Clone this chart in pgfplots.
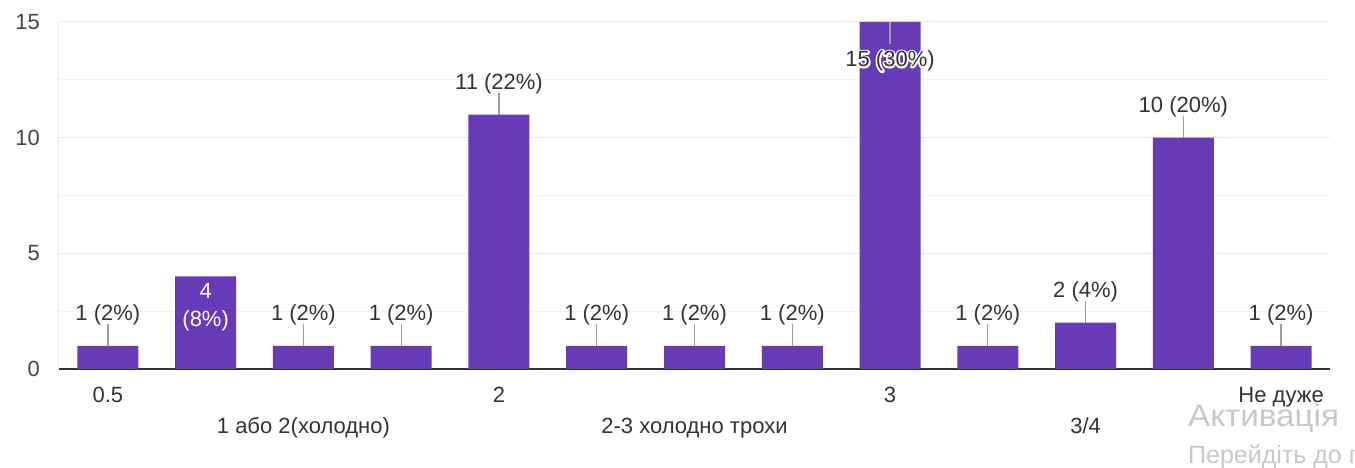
\documentclass[border=0pt]{standalone}
\usepackage{fontspec}
\setmainfont{Liberation Sans}
\usepackage{pgfplots}
\pgfplotsset{compat=1.18}
\definecolor{barc}{HTML}{673AB7}
\definecolor{gridc}{HTML}{EBEBEB}
\definecolor{minorc}{HTML}{F3F3F3}
\definecolor{tickc}{HTML}{444444}
\definecolor{xlabc}{HTML}{333333}
\definecolor{labc}{HTML}{333333}
\definecolor{stemc}{HTML}{9E9E9E}
\definecolor{wm}{HTML}{C8C8C8}
\newcommand{\rowtwo}[1]{\raisebox{-31pt}{#1}}
\newcommand{\lfont}{\fontsize{22}{28}\selectfont}
\newcommand{\halo}[1]{\makebox[0pt][l]{\color{white}\special{pdf:literal direct 1 Tr 3.5 w 1 j}#1\special{pdf:literal direct 0 Tr 1 w}}#1}
\begin{document}
\begin{tikzpicture}
\begin{axis}[
  at={(0,0)}, anchor=south west,
  scale only axis, width=1271pt, height=347pt,
  xmin=-0.5, xmax=12.5, ymin=0, ymax=15,
  clip=false,
  axis x line*=bottom, axis y line*=left,
  x axis line style={draw=black!80, line width=1.6pt},
  y axis line style={draw=gridc, line width=1pt},
  xtick={0,...,12},
  xticklabels={0.5,,\rowtwo{1 або 2(холодно)},,2,,\rowtwo{2-3 холодно трохи},,3,,\rowtwo{3/4},,Не дуже},
  ytick={0,5,10,15}, minor ytick={2.5,7.5,12.5},
  major tick length=0pt, minor tick length=0pt,
  ymajorgrids, yminorgrids,
  major grid style={draw=gridc, line width=1pt},
  minor grid style={draw=minorc, line width=1pt},
  tick label style={font=\lfont},
  yticklabel style={anchor=east, inner sep=0pt, xshift=-19pt, text=tickc},
  xticklabel style={anchor=base, inner sep=0pt, yshift=-34pt, text=xlabc},
  /pgf/number format/assume math mode=true,
]
\addplot[ybar, bar width=61pt, bar shift=0pt, fill=barc, draw=none]
  coordinates {(0,1)(1,4)(2,1)(3,1)(4,11)(5,1)(6,1)(7,1)(8,15)(9,1)(10,2)(11,10)(12,1)};

\addplot[draw=none, mark=none, point meta=explicit symbolic,
  nodes near coords, nodes near coords align={center},
  every node near coord/.append style={anchor=center, yshift=31pt, font=\lfont, text=labc, inner sep=0pt},
  error bars/.cd, y dir=plus, y explicit, error mark=none,
  error bar style={draw=stemc, line width=1.3pt, solid}]
  table[col sep=comma, x=x, y=y, y error plus=e, meta=lab] {
x,y,e,lab
0,1,0.95,1 (2\%)
2,1,0.95,1 (2\%)
3,1,0.95,1 (2\%)
4,11,0.95,11 (22\%)
5,1,0.95,1 (2\%)
6,1,0.95,1 (2\%)
7,1,0.95,1 (2\%)
9,1,0.95,1 (2\%)
10,2,0.95,2 (4\%)
11,10,0.95,10 (20\%)
12,1,0.95,1 (2\%)
};

\addplot[draw=none, mark=none,
  nodes near coords={4\\(8\%)}, nodes near coords align={center},
  every node near coord/.append style={anchor=center, yshift=-31pt, align=center, font=\lfont, text=white, inner sep=0pt}]
  coordinates {(1,4)};

\addplot[draw=none, mark=none,
  nodes near coords={\halo{15 (30\%)}}, nodes near coords align={center},
  every node near coord/.append style={anchor=center, yshift=-39pt, font=\lfont, text=labc, inner sep=0pt},
  error bars/.cd, y dir=minus, y explicit, error mark=none,
  error bar style={draw=stemc, line width=1.3pt, solid}]
  table[x=x, y=y, y error minus=e] {
x y e
8 15 0.95
};
\end{axis}
\node[anchor=base west, text=wm, font=\fontsize{31}{36}\selectfont, inner sep=0pt] at (1129pt,-58pt) {\scalebox{1.07}[1]{Активація}};
\node[anchor=base west, text=wm, font=\fontsize{25}{30}\selectfont, inner sep=0pt] at (1129pt,-95pt) {Перейдіть до параметрів};
\pgfresetboundingbox
\path[use as bounding box] (-59pt,-99pt) rectangle (1296pt,369pt);
\end{tikzpicture}
\end{document}
